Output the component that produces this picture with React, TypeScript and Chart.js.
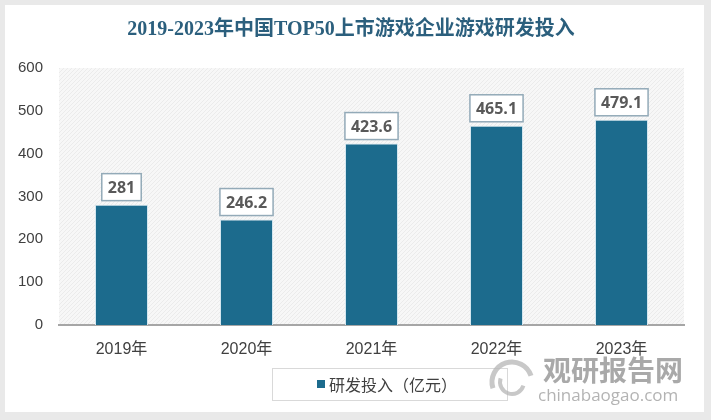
import React, { useEffect, useRef } from "react";
import { Chart, registerables } from "chart.js";

Chart.register(...registerables);

const categories = ["2019年", "2020年", "2021年", "2022年", "2023年"];
const rdInvestment = [281, 246.2, 423.6, 465.1, 479.1];
const yTicks = [0, 100, 200, 300, 400, 500, 600];
const titleText = "2019-2023年中国TOP50上市游戏企业游戏研发投入";
const seriesName = "研发投入（亿元）";
const watermarkCn = "观研报告网";
const watermarkEn = "chinabaogao.com";

const BAR_COLOR = "#1c6b8d";

function makePattern(ctx: CanvasRenderingContext2D) {
  const c = document.createElement("canvas");
  c.width = 4;
  c.height = 4;
  const p = c.getContext("2d")!;
  p.fillStyle = "#f7f7f7";
  p.fillRect(0, 0, 4, 4);
  p.strokeStyle = "#ebebeb";
  p.lineWidth = 1;
  p.beginPath();
  p.moveTo(0, 4);
  p.lineTo(4, 0);
  p.stroke();
  return ctx.createPattern(c, "repeat");
}

const framePlugin = {
  id: "frame",
  beforeDraw(chart: any) {
    const { ctx, chartArea } = chart;
    ctx.save();
    ctx.fillStyle = "#e9e9e9";
    ctx.fillRect(0, 0, chart.width, chart.height);
    ctx.fillStyle = "#ffffff";
    ctx.fillRect(5, 5, 699, 407);
    const pat = makePattern(ctx);
    ctx.fillStyle = pat || "#f4f4f4";
    ctx.fillRect(chartArea.left, chartArea.top, chartArea.right - chartArea.left, chartArea.bottom - chartArea.top);
    ctx.restore();
  },
  afterDraw(chart: any) {
    const { ctx } = chart;
    ctx.save();
    // legend box
    ctx.strokeStyle = "#d9d9d9";
    ctx.lineWidth = 1;
    ctx.strokeRect(272.5, 368.5, 235, 32);
    ctx.fillStyle = BAR_COLOR;
    ctx.fillRect(317, 380, 8, 8);
    ctx.fillStyle = "#404040";
    ctx.font = '16px "Noto Sans CJK SC"';
    ctx.textAlign = "left";
    ctx.textBaseline = "middle";
    ctx.fillText(seriesName, 329, 385);
    // watermark
    ctx.globalAlpha = 0.75;
    ctx.strokeStyle = "#b5b5b5";
    ctx.lineWidth = 5;
    ctx.beginPath();
    ctx.arc(512, 382, 20, Math.PI * 0.9, Math.PI * 1.9);
    ctx.stroke();
    ctx.lineWidth = 4;
    ctx.beginPath();
    ctx.arc(512, 382, 12, Math.PI * 0.1, Math.PI * 1.1);
    ctx.stroke();
    ctx.fillStyle = "#8c8c8c";
    ctx.font = 'bold 28px "Noto Sans CJK SC"';
    ctx.textAlign = "left";
    ctx.fillText(watermarkCn, 543, 370);
    ctx.fillStyle = "#9a9a9a";
    ctx.font = '17px "Open Sans"';
    ctx.fillText(watermarkEn, 538, 396);
    ctx.restore();
  },
};

const labelPlugin = {
  id: "valueLabels",
  afterDatasetsDraw(chart: any) {
    const { ctx } = chart;
    const meta = chart.getDatasetMeta(0);
    ctx.save();
    ctx.font = 'bold 16px "Open Sans"';
    ctx.textAlign = "center";
    ctx.textBaseline = "middle";
    meta.data.forEach((bar: any, i: number) => {
      const text = String(rdInvestment[i]);
      const w = ctx.measureText(text).width + 12;
      const h = 27;
      const x = bar.x;
      const bottom = bar.y - 4;
      ctx.fillStyle = "#ffffff";
      ctx.fillRect(x - w / 2, bottom - h, w, h);
      ctx.strokeStyle = "#93aab8";
      ctx.lineWidth = 1.5;
      ctx.strokeRect(x - w / 2, bottom - h, w, h);
      ctx.fillStyle = "#595959";
      ctx.fillText(text, x, bottom - h / 2 + 1);
    });
    ctx.restore();
  },
};

export default function App() {
  const ref = useRef<HTMLCanvasElement>(null);
  useEffect(() => {
    if (!ref.current) return;
    const chart = new Chart(ref.current, {
      type: "bar",
      data: {
        labels: categories,
        datasets: [
          {
            label: seriesName,
            data: rdInvestment,
            backgroundColor: BAR_COLOR,
            borderColor: "#d4e6ef",
            borderWidth: 1,
            categoryPercentage: 1,
            barPercentage: 0.424,
          },
        ],
      },
      options: {
        animation: false,
        responsive: false,
        layout: { padding: { left: 18, right: 27, top: 5, bottom: 0 } },
        plugins: {
          legend: { display: false },
          tooltip: { enabled: false },
          title: {
            display: true,
            text: titleText,
            color: "#2b5f7d",
            font: { size: 20, weight: "bold", family: '"Liberation Serif", "Noto Sans CJK SC"' },
            padding: { top: 13, bottom: 26 },
          },
        },
        scales: {
          x: {
            grid: { display: false, drawTicks: false },
            border: { display: true, color: "#a6a6a6", width: 2 },
            ticks: {
              color: "#404040",
              font: { size: 16, family: '"Liberation Sans", "Noto Sans CJK SC"' },
              padding: 15,
            },
            afterFit(scale: any) {
              scale.height = 95;
            },
          },
          y: {
            min: 0,
            max: 600,
            afterBuildTicks(scale: any) {
              scale.ticks = yTicks.map((v) => ({ value: v }));
            },
            grid: { display: false, drawTicks: false },
            border: { display: false },
            ticks: {
              color: "#404040",
              font: { size: 15, family: '"Liberation Sans"' },
              padding: 16,
            },
            afterFit(scale: any) {
              scale.width = 41;
            },
          },
        },
      },
      plugins: [framePlugin, labelPlugin],
    });
    return () => chart.destroy();
  }, []);
  return (
    <div style={{ position: "fixed", left: 0, top: 0, width: 711, height: 420 }}>
      <canvas ref={ref} width={711} height={420} style={{ width: 711, height: 420, display: "block" }} />
    </div>
  );
}
